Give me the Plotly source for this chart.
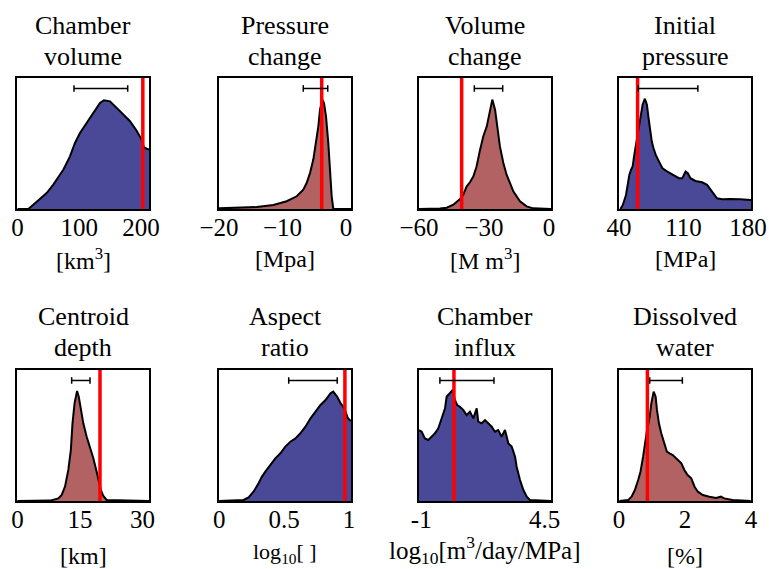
import plotly.graph_objects as go

W, H = 769, 569

# ---------------- data (x position, relative histogram height) ----------------
chamber_volume_x = [0, 17.5, 25.6, 47.2, 58, 74.2, 85, 93.1, 101.2, 112, 122.8, 133.6, 140, 149.8, 166, 182.2, 193, 201, 204.8, 213]
chamber_volume_h = [0, 0, 0.033, 0.122, 0.186, 0.300, 0.402, 0.504, 0.580, 0.656, 0.733, 0.810, 0.830, 0.822, 0.747, 0.670, 0.598, 0.530, 0.470, 0.453]

pressure_change_x = [-20.0, -14.07, -11.45, -9.35, -7.77, -6.74, -6.21, -5.68, -5.16, -4.73, -4.37, -4.11, -3.74, -3.48, -3.16, -2.80, -2.53, -2.27, -2.01, 0.77]
pressure_change_h = [0.005, 0.015, 0.031, 0.059, 0.097, 0.148, 0.198, 0.275, 0.377, 0.504, 0.631, 0.758, 0.835, 0.809, 0.707, 0.504, 0.275, 0.097, 0, 0]

volume_change_x = [-60.0, -50.33, -47.24, -44.16, -41.08, -39.59, -37.99, -36.51, -34.91, -33.43, -31.83, -30.34, -28.75, -27.26, -26.2, -24.92, -24.18, -22.69, -21.1, -19.61, -18.01, -16.52, -13.44, -10.36, -7.28, 0.87]
volume_change_h = [0, 0.003, 0.010, 0.033, 0.076, 0.109, 0.173, 0.204, 0.249, 0.326, 0.453, 0.555, 0.631, 0.758, 0.835, 0.758, 0.656, 0.478, 0.351, 0.262, 0.198, 0.135, 0.059, 0.020, 0.005, 0]

initial_pressure_x = [41.4, 44.0, 47.5, 51.1, 52.9, 54.7, 56.5, 58.3, 60.1, 61.9, 63.7, 65.5, 68.0, 70.2, 72.0, 73.7, 75.5, 77.4, 79.8, 83.4, 87.1, 92.4, 99.6, 104.9, 108.6, 112.2, 114.6, 117.5, 122.9, 130.1, 135.5, 140.9, 146.3, 151.7, 160.6, 171.4, 183.2]
initial_pressure_h = [0, 0.031, 0.107, 0.260, 0.298, 0.324, 0.413, 0.490, 0.541, 0.643, 0.719, 0.796, 0.842, 0.796, 0.694, 0.592, 0.515, 0.464, 0.413, 0.362, 0.311, 0.286, 0.260, 0.235, 0.235, 0.286, 0.273, 0.235, 0.214, 0.204, 0.184, 0.133, 0.082, 0.074, 0.077, 0.074, 0.069]

centroid_depth_x = [-0.04, 7.8, 9.8, 10.6, 11.4, 12.2, 12.8, 13.2, 13.7, 14.3, 14.7, 15.2, 15.8, 16.6, 17.4, 18.2, 19.0, 19.6, 20.0, 20.6, 21.4, 31.6]
centroid_depth_h = [0, 0.003, 0.020, 0.046, 0.109, 0.237, 0.389, 0.593, 0.746, 0.840, 0.796, 0.695, 0.593, 0.491, 0.415, 0.326, 0.224, 0.148, 0.084, 0.038, 0.008, 0]

aspect_ratio_x = [0, 0.085, 0.188, 0.227, 0.265, 0.304, 0.330, 0.356, 0.394, 0.433, 0.472, 0.510, 0.549, 0.588, 0.626, 0.665, 0.704, 0.742, 0.781, 0.820, 0.858, 0.879, 0.910, 0.936, 0.956, 0.974, 0.992, 1.016]
aspect_ratio_h = [0, 0.003, 0.008, 0.028, 0.071, 0.135, 0.186, 0.224, 0.275, 0.326, 0.364, 0.415, 0.453, 0.478, 0.517, 0.567, 0.631, 0.682, 0.733, 0.771, 0.822, 0.835, 0.796, 0.746, 0.720, 0.682, 0.631, 0.611]

chamber_influx_x = [-1.10, -0.98, -0.84, -0.69, -0.54, -0.39, -0.24, -0.09, 0.06, 0.13, 0.28, 0.40, 0.50, 0.60, 0.72, 0.87, 1.02, 1.17, 1.32, 1.47, 1.54, 1.69, 1.84, 1.99, 2.14, 2.28, 2.43, 2.58, 2.73, 2.88, 3.03, 3.18, 3.25, 3.40, 3.55, 3.70, 3.84, 4.78]
chamber_influx_h = [0.542, 0.529, 0.478, 0.466, 0.491, 0.517, 0.555, 0.631, 0.707, 0.796, 0.822, 0.847, 0.771, 0.733, 0.720, 0.695, 0.656, 0.682, 0.631, 0.707, 0.606, 0.593, 0.618, 0.593, 0.567, 0.529, 0.542, 0.491, 0.542, 0.440, 0.415, 0.338, 0.262, 0.160, 0.084, 0.033, 0.008, 0]

dissolved_water_x = [0.01, 0.28, 0.38, 0.48, 0.58, 0.65, 0.73, 0.78, 0.85, 0.93, 0.98, 1.05, 1.11, 1.15, 1.21, 1.28, 1.38, 1.45, 1.53, 1.63, 1.73, 1.89, 1.98, 2.08, 2.19, 2.29, 2.39, 2.54, 2.74, 2.94, 3.09, 3.19, 3.44, 3.99]
dissolved_water_h = [0, 0.008, 0.033, 0.084, 0.160, 0.224, 0.338, 0.440, 0.542, 0.644, 0.746, 0.835, 0.796, 0.695, 0.593, 0.517, 0.440, 0.377, 0.364, 0.351, 0.326, 0.288, 0.237, 0.198, 0.173, 0.109, 0.071, 0.046, 0.033, 0.023, 0.033, 0.020, 0.008, 0]

titles = [["Chamber", "volume"], ["Pressure", "change"], ["Volume", "change"], ["Initial", "pressure"],
          ["Centroid", "depth"], ["Aspect", "ratio"], ["Chamber", "influx"], ["Dissolved", "water"]]
xlabels = ["[km<sup>3</sup>]", "[Mpa]", "[M m<sup>3</sup>]", "[MPa]",
           "[km]", "log<sub>10</sub>[ ]", "log<sub>10</sub>[m<sup>3</sup>/day/MPa]", "[%]"]
tick_values = [[0, 100, 200], [-20, -10, 0], [-60, -30, 0], [40, 110, 180],
               [0, 15, 30], [0, 0.5, 1], [-1, 4.5], [0, 2, 4]]
tick_labels = [["0", "100", "200"], ["\u221220", "\u221210", "0"], ["\u221260", "\u221230", "0"], ["40", "110", "180"],
               ["0", "15", "30"], ["0", "0.5", "1"], ["-1", "4.5"], ["0", "2", "4"]]
x_ranges = [[-0.8, 213], [-20.001, 0.77], [-60.001, 0.87], [39.9, 183.2],
            [-0.12, 31.56], [-0.001, 1.016], [-1.1, 4.78], [-0.001, 4.001]]
true_values = [203, -3.84, -40.33, 60.1, 19.8, 0.969, 0.457, 0.86]
err_lo = [91.5, -6.74, -34.49, 60.8, 13.0, 0.536, -0.17, 0.93]
err_hi = [178.5, -2.89, -21.41, 125.5, 17.4, 0.910, 2.24, 1.92]

hist_x = [chamber_volume_x, pressure_change_x, volume_change_x, initial_pressure_x,
          centroid_depth_x, aspect_ratio_x, chamber_influx_x, dissolved_water_x]
hist_h = [chamber_volume_h, pressure_change_h, volume_change_h, initial_pressure_h,
          centroid_depth_h, aspect_ratio_h, chamber_influx_h, dissolved_water_h]

BLUE = "rgb(73,73,152)"
RED_FILL = "rgb(178,98,98)"
fills = [BLUE, RED_FILL, RED_FILL, BLUE, RED_FILL, BLUE, BLUE, RED_FILL]

# ---------------- layout geometry (pixels) ----------------
col_x = [(17, 149), (219, 351), (419, 551), (619, 751)]
row_y = [(78, 209), (370, 501)]
label_y = [259, 259, 259, 259, 556, 553, 550, 556]
label_size = [24, 24, 24, 24, 24, 22, 25, 24]
FONT = "Liberation Serif, Times New Roman, serif"

fig = go.Figure()
annotations = []
layout = dict(width=W, height=H, autosize=False,
              margin=dict(l=0, r=0, t=0, b=0, pad=0, autoexpand=False),
              paper_bgcolor="white", plot_bgcolor="white", showlegend=False,
              font=dict(family=FONT, color="black"))

for i in range(8):
    r, c = divmod(i, 4)
    x0, x1 = col_x[c]
    y0, y1 = row_y[r]
    xa = "x" if i == 0 else f"x{i+1}"
    ya = "y" if i == 0 else f"y{i+1}"
    xkey = "xaxis" if i == 0 else f"xaxis{i+1}"
    ykey = "yaxis" if i == 0 else f"yaxis{i+1}"
    layout[xkey] = dict(domain=[x0 / W, x1 / W], range=x_ranges[i], anchor=ya, automargin=False,
                        tickvals=tick_values[i], ticktext=tick_labels[i],
                        showgrid=False, zeroline=False, showline=True, mirror=True,
                        linecolor="black", linewidth=1.5, ticks="", ticklabelstandoff=-5,
                        tickfont=dict(family=FONT, size=25, color="black"))
    layout[ykey] = dict(domain=[(H - y1) / H, (H - y0) / H], range=[0, 1], anchor=xa, automargin=False,
                        showticklabels=False, showgrid=False, zeroline=False,
                        showline=True, mirror=True, linecolor="black", linewidth=1.5, ticks="")

    fig.add_trace(go.Scatter(x=hist_x[i], y=hist_h[i], xaxis=xa, yaxis=ya, mode="lines",
                             fill="tozeroy", fillcolor=fills[i],
                             line=dict(color="black", width=2), hoverinfo="skip"))
    fig.add_trace(go.Scatter(x=[true_values[i], true_values[i]], y=[0, 1], xaxis=xa, yaxis=ya,
                             mode="lines", line=dict(color="rgb(255,0,0)", width=3.5), hoverinfo="skip"))
    lvl = 0.92
    fig.add_trace(go.Scatter(x=[err_lo[i], err_hi[i]], y=[lvl, lvl], xaxis=xa, yaxis=ya,
                             mode="lines", line=dict(color="black", width=1.5),
                             error_y=dict(type="constant", value=0.025, width=0, thickness=1.5, color="black"),
                             hoverinfo="skip"))

    cx = (x0 + x1) / 2 / W
    base = 25.5 if r == 0 else 316.5
    for k, line in enumerate(titles[i]):
        annotations.append(dict(text=line, x=cx, y=(H - (base + 31 * k)) / H, xref="paper", yref="paper",
                                xanchor="center", yanchor="middle", showarrow=False,
                                font=dict(family=FONT, size=26, color="black")))
    annotations.append(dict(text=xlabels[i], x=cx, y=(H - label_y[i]) / H, xref="paper", yref="paper",
                            xanchor="center", yanchor="middle", showarrow=False,
                            font=dict(family=FONT, size=label_size[i], color="black")))

layout["annotations"] = annotations
fig.update_layout(**layout)
fig.write_html("out.html", config={"responsive": False, "displayModeBar": False},
               post_script="document.body.style.margin='0';document.body.style.overflow='hidden';")
